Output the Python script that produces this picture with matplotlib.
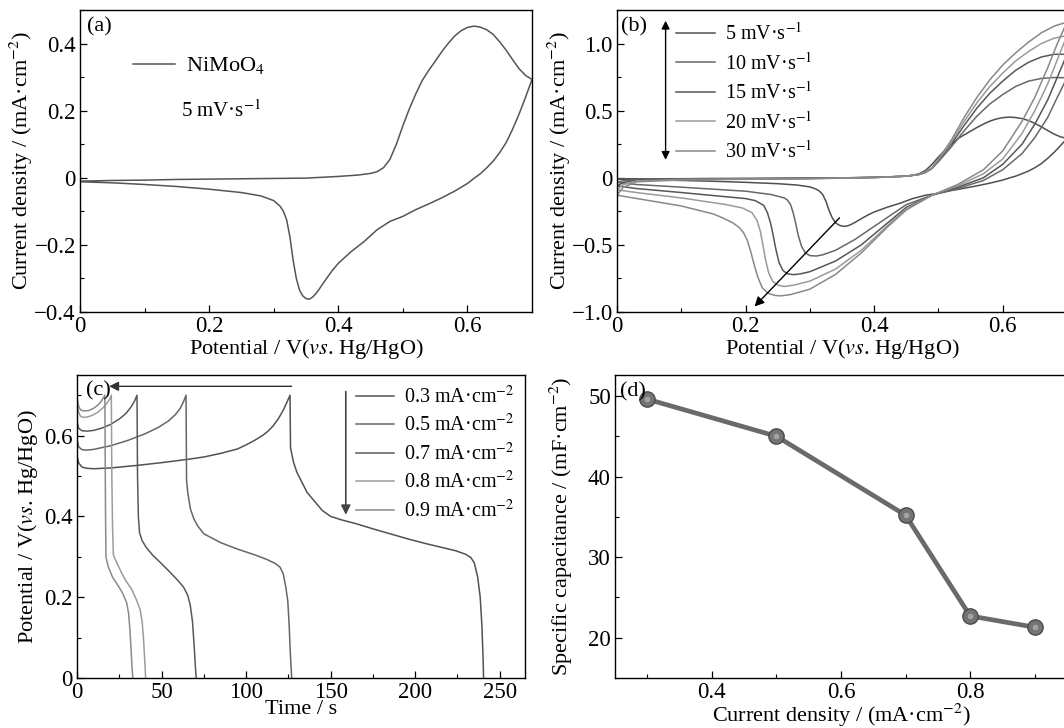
import matplotlib
matplotlib.use("Agg")
import matplotlib.pyplot as plt
from matplotlib.ticker import MultipleLocator, FuncFormatter

plt.rcParams['font.family'] = ['Liberation Serif', 'DejaVu Serif']
plt.rcParams['mathtext.fontset'] = 'stix'
plt.rcParams['font.size'] = 16
plt.rcParams['axes.unicode_minus'] = True

FS = 16      # axis labels
LFS = 14.5   # legend entries
TFS = 16.5   # tick labels

# ---------------- data ----------------
# (a) / (b) CV at 5 mV/s : anodic branch then cathodic branch
v5_up = [0, 0.05, 0.1, 0.15, 0.2, 0.25, 0.3, 0.35, 0.4, 0.43, 0.45, 0.46, 0.47, 0.48, 0.49,
         0.5, 0.51, 0.52, 0.53, 0.54, 0.55, 0.56, 0.57, 0.58, 0.59, 0.6, 0.61, 0.62, 0.63,
         0.64, 0.65, 0.66, 0.67, 0.68, 0.69, 0.7]
i5_up = [-0.01, -0.008, -0.007, -0.005, -0.004, -0.003, -0.002, -0.001, 0.004, 0.008, 0.013,
         0.018, 0.03, 0.055, 0.1, 0.155, 0.205, 0.25, 0.29, 0.32, 0.347, 0.375, 0.4, 0.422,
         0.438, 0.448, 0.452, 0.449, 0.441, 0.427, 0.405, 0.38, 0.352, 0.325, 0.305, 0.293]
v5_dn = [0.7, 0.69, 0.68, 0.67, 0.66, 0.65, 0.64, 0.63, 0.62, 0.61, 0.6, 0.58, 0.56, 0.54,
         0.52, 0.5, 0.48, 0.46, 0.44, 0.42, 0.4, 0.39, 0.38, 0.37, 0.365, 0.36, 0.355, 0.35,
         0.345, 0.34, 0.335, 0.33, 0.325, 0.32, 0.315, 0.31, 0.3, 0.28, 0.25, 0.2, 0.15, 0.1,
         0.05, 0]
i5_dn = [0.293, 0.24, 0.19, 0.145, 0.105, 0.075, 0.05, 0.03, 0.012, -0.002, -0.017, -0.04,
         -0.06, -0.078, -0.095, -0.115, -0.13, -0.155, -0.19, -0.22, -0.255, -0.278, -0.305,
         -0.333, -0.346, -0.356, -0.362, -0.36, -0.352, -0.335, -0.3, -0.245, -0.175, -0.125,
         -0.1, -0.085, -0.068, -0.054, -0.044, -0.034, -0.026, -0.02, -0.015, -0.012]

# (b) other scan rates
v_up = [0, 0.01, 0.03, 0.1, 0.2, 0.3, 0.4, 0.45, 0.47, 0.48, 0.49, 0.5, 0.52, 0.54, 0.56,
        0.58, 0.6, 0.62, 0.64, 0.66, 0.68, 0.7]
i10_up = [-0.035, -0.022, -0.013, -0.009, -0.007, -0.004, 0.003, 0.012, 0.025, 0.04, 0.07,
          0.12, 0.23, 0.35, 0.46, 0.55, 0.62, 0.68, 0.72, 0.74, 0.747, 0.745]
i15_up = [-0.06, -0.035, -0.018, -0.011, -0.008, -0.005, 0.002, 0.012, 0.025, 0.04, 0.07,
          0.13, 0.25, 0.39, 0.52, 0.63, 0.72, 0.8, 0.86, 0.9, 0.92, 0.92]
i20_up = [-0.09, -0.05, -0.024, -0.013, -0.009, -0.006, 0.002, 0.012, 0.025, 0.042, 0.072,
          0.135, 0.265, 0.42, 0.56, 0.68, 0.78, 0.87, 0.94, 1.0, 1.04, 1.06]
i30_up = [-0.13, -0.07, -0.03, -0.016, -0.011, -0.007, 0.001, 0.012, 0.025, 0.045, 0.075,
          0.14, 0.28, 0.45, 0.6, 0.73, 0.84, 0.93, 1.01, 1.08, 1.13, 1.16]

v10_dn = [0.7, 0.685, 0.67, 0.65, 0.63, 0.6, 0.57, 0.53, 0.49, 0.45, 0.41, 0.37, 0.34, 0.32,
          0.31, 0.3, 0.293, 0.287, 0.282, 0.278, 0.274, 0.27, 0.265, 0.26, 0.24, 0.2, 0.1,
          0.03, 0.0]
i10_dn = [0.745, 0.6, 0.45, 0.3, 0.18, 0.06, -0.02, -0.08, -0.13, -0.2, -0.33, -0.46, -0.54,
          -0.574, -0.583, -0.58, -0.56, -0.51, -0.43, -0.34, -0.26, -0.2, -0.165, -0.15,
          -0.125, -0.1, -0.07, -0.05, -0.035]
v15_dn = [0.7, 0.685, 0.67, 0.65, 0.63, 0.6, 0.57, 0.53, 0.49, 0.45, 0.42, 0.38, 0.34, 0.3,
          0.285, 0.275, 0.265, 0.258, 0.252, 0.247, 0.243, 0.239, 0.234, 0.228, 0.215, 0.2,
          0.1, 0.03, 0.0]
i15_dn = [0.92, 0.75, 0.58, 0.4, 0.25, 0.1, 0.0, -0.07, -0.13, -0.22, -0.34, -0.5, -0.62,
          -0.7, -0.716, -0.722, -0.715, -0.69, -0.63, -0.53, -0.43, -0.34, -0.26, -0.205,
          -0.17, -0.155, -0.11, -0.08, -0.06]
v20_dn = [0.7, 0.685, 0.67, 0.65, 0.63, 0.6, 0.57, 0.53, 0.49, 0.45, 0.42, 0.38, 0.34, 0.3,
          0.275, 0.26, 0.25, 0.242, 0.236, 0.231, 0.227, 0.223, 0.218, 0.21, 0.195, 0.17,
          0.1, 0.03, 0.0]
i20_dn = [1.06, 0.88, 0.7, 0.5, 0.33, 0.14, 0.03, -0.06, -0.13, -0.23, -0.36, -0.54, -0.68,
          -0.77, -0.8, -0.81, -0.8, -0.77, -0.71, -0.61, -0.5, -0.4, -0.32, -0.26, -0.225,
          -0.2, -0.15, -0.11, -0.09]
v30_dn = [0.7, 0.685, 0.67, 0.65, 0.63, 0.6, 0.57, 0.53, 0.49, 0.45, 0.42, 0.38, 0.34, 0.3,
          0.27, 0.255, 0.245, 0.235, 0.226, 0.219, 0.213, 0.208, 0.203, 0.197, 0.19, 0.18,
          0.165, 0.15, 0.1, 0.05, 0.0]
i30_dn = [1.16, 1.0, 0.82, 0.6, 0.42, 0.2, 0.06, -0.05, -0.13, -0.24, -0.37, -0.56, -0.72,
          -0.83, -0.87, -0.88, -0.876, -0.86, -0.82, -0.74, -0.64, -0.55, -0.47, -0.41,
          -0.37, -0.335, -0.3, -0.27, -0.21, -0.17, -0.13]

scan_labels = ['5 mV·s$^{-1}$', '10 mV·s$^{-1}$', '15 mV·s$^{-1}$',
               '20 mV·s$^{-1}$', '30 mV·s$^{-1}$']
cv_colors = ['#4f4f4f', '#686868', '#565656', '#9a9a9a', '#888888']

# (c) GCD curves
t03 = [0, 1, 3, 6, 10, 20, 35, 50, 65, 75, 85, 95, 100, 105, 110, 113, 116, 119, 122, 124,
       126, 126.3, 128, 130, 133, 136, 140, 145, 150, 156, 165, 176, 186, 196, 206, 216, 224,
       230, 233, 235, 237, 238.5, 239.5, 240.2, 240.5]
u03 = [0.55, 0.532, 0.522, 0.519, 0.518, 0.52, 0.526, 0.533, 0.541, 0.547, 0.556, 0.567,
       0.577, 0.588, 0.601, 0.611, 0.624, 0.641, 0.663, 0.681, 0.7, 0.57, 0.535, 0.51, 0.485,
       0.46, 0.44, 0.415, 0.4, 0.392, 0.382, 0.368, 0.356, 0.344, 0.333, 0.323, 0.315, 0.306,
       0.298, 0.285, 0.25, 0.2, 0.13, 0.05, 0.0]
t05 = [0, 1, 3, 6, 10, 20, 30, 40, 48, 54, 58, 61, 63, 64.5, 64.8, 65.5, 67, 69, 71.3, 75,
       85, 95, 105, 112, 117, 120, 122, 123.5, 124.7, 125.5, 126.2, 127]
u05 = [0.59, 0.572, 0.565, 0.564, 0.566, 0.575, 0.588, 0.604, 0.62, 0.636, 0.651, 0.667,
       0.684, 0.7, 0.49, 0.46, 0.42, 0.395, 0.377, 0.357, 0.335, 0.319, 0.305, 0.294, 0.284,
       0.275, 0.258, 0.225, 0.19, 0.13, 0.06, 0.0]
t07 = [0, 1, 3, 6, 10, 15, 20, 25, 29, 32, 34, 35.5, 35.8, 36.3, 37, 38.5, 41, 45, 50, 55,
       60, 63, 65.5, 67, 68.3, 69.3, 70, 70.5]
u07 = [0.635, 0.618, 0.612, 0.611, 0.613, 0.619, 0.628, 0.641, 0.655, 0.671, 0.685, 0.7,
       0.5, 0.4, 0.36, 0.34, 0.323, 0.303, 0.283, 0.262, 0.24, 0.225, 0.205, 0.18, 0.14,
       0.08, 0.03, 0.0]
t08 = [0, 0.8, 2, 4, 6, 9, 12, 15, 17.5, 19.3, 20.3, 20.6, 21, 21.5, 23, 26.4, 29, 32.3, 35,
       37.3, 38.5, 39.3, 40, 40.6]
u08 = [0.685, 0.66, 0.648, 0.645, 0.646, 0.65, 0.657, 0.667, 0.679, 0.69, 0.7, 0.5, 0.38,
       0.305, 0.29, 0.26, 0.24, 0.22, 0.195, 0.17, 0.14, 0.1, 0.05, 0.0]
t09 = [0, 0.8, 2, 4, 7, 10, 12.5, 14.5, 16.5, 16.8, 17.1, 18.5, 21, 24.4, 27, 29.4, 30.5,
       31.3, 32, 32.5, 33]
u09 = [0.695, 0.675, 0.664, 0.661, 0.662, 0.668, 0.676, 0.686, 0.7, 0.45, 0.3, 0.275, 0.25,
       0.228, 0.21, 0.186, 0.16, 0.12, 0.07, 0.03, 0.0]
gcd_labels = ['0.3 mA·cm$^{-2}$', '0.5 mA·cm$^{-2}$', '0.7 mA·cm$^{-2}$',
              '0.8 mA·cm$^{-2}$', '0.9 mA·cm$^{-2}$']
gcd_colors = ['#525252', '#666666', '#585858', '#9c9c9c', '#8a8a8a']

# (d) specific capacitance
cur_density = [0.3, 0.5, 0.7, 0.8, 0.9]
spec_cap = [49.6, 45.0, 35.2, 22.7, 21.3]


def fmt1(x, pos):
    if abs(x) < 1e-9:
        return '0'
    return ('%.1f' % x).replace('-', '\u2212')


def fmt0(x, pos):
    return '%d' % round(x)


def style(ax):
    ax.tick_params(which='both', direction='in', top=False, right=False, labelsize=TFS)
    ax.tick_params(which='major', length=5, width=0.9, pad=3)
    ax.tick_params(which='minor', length=3, width=0.8)
    for s in ax.spines.values():
        s.set_linewidth(1.0)


fig = plt.figure(figsize=(10.64, 7.28), dpi=100)
W, H = 1064.0, 728.0


def add_ax(l, t, r, b):
    return fig.add_axes([l / W, 1 - b / H, (r - l) / W, (b - t) / H])


ax_a = add_ax(80, 10, 532, 312)
ax_b = add_ax(617, 10, 1067, 312)
ax_c = add_ax(77, 375, 525, 678)
ax_d = add_ax(615, 375, 1067, 678)

xlab_cv = 'Potential / V($\\mathit{vs}$. Hg/HgO)'
ylab_cv = 'Current density / (mA·cm$^{-2}$)'
leg_kw = dict(loc='upper left', frameon=False, handlelength=1.9,
              handletextpad=0.5, borderpad=0, borderaxespad=0)

# ---- (a) ----
ax_a.plot(v5_up + v5_dn, i5_up + i5_dn, color='#555555', lw=1.1, label='NiMoO$_4$')
ax_a.set_xlim(0, 0.7)
ax_a.set_ylim(-0.4, 0.5)
ax_a.xaxis.set_major_locator(MultipleLocator(0.2))
ax_a.xaxis.set_minor_locator(MultipleLocator(0.1))
ax_a.yaxis.set_major_locator(MultipleLocator(0.2))
ax_a.yaxis.set_minor_locator(MultipleLocator(0.1))
ax_a.xaxis.set_major_formatter(FuncFormatter(fmt1))
ax_a.yaxis.set_major_formatter(FuncFormatter(fmt1))
ax_a.set_xlabel(xlab_cv, fontsize=FS, labelpad=0)
ax_a.set_ylabel(ylab_cv, fontsize=FS)
ax_a.yaxis.set_label_coords(-0.099, 0.5)
ax_a.legend(bbox_to_anchor=(0.117, 0.85), fontsize=FS, **leg_kw)
ax_a.text(0.156, 0.2, '5 mV·s$^{-1}$', fontsize=LFS + 0.5, va='center')
ax_a.text(0.015, 0.975, '(a)', transform=ax_a.transAxes, fontsize=FS, va='top')
style(ax_a)

# ---- (b) ----
b_up = [(v5_up, i5_up), (v_up, i10_up), (v_up, i15_up), (v_up, i20_up), (v_up, i30_up)]
b_dn = [(v5_dn, i5_dn), (v10_dn, i10_dn), (v15_dn, i15_dn), (v20_dn, i20_dn), (v30_dn, i30_dn)]
for (vu, iu), (vd, idn), lab, col in zip(b_up, b_dn, scan_labels, cv_colors):
    ax_b.plot(list(vu) + list(vd), list(iu) + list(idn), color=col, lw=1.1, label=lab)
ax_b.set_xlim(0, 0.7)
ax_b.set_ylim(-1.0, 1.25)
ax_b.xaxis.set_major_locator(MultipleLocator(0.2))
ax_b.xaxis.set_minor_locator(MultipleLocator(0.1))
ax_b.yaxis.set_major_locator(MultipleLocator(0.5))
ax_b.yaxis.set_minor_locator(MultipleLocator(0.25))
ax_b.xaxis.set_major_formatter(FuncFormatter(fmt1))
ax_b.yaxis.set_major_formatter(FuncFormatter(fmt1))
ax_b.set_xlabel(xlab_cv, fontsize=FS, labelpad=0)
ax_b.set_ylabel(ylab_cv, fontsize=FS)
ax_b.yaxis.set_label_coords(-0.097, 0.5)
ax_b.legend(bbox_to_anchor=(0.132, 0.958), fontsize=LFS, labelspacing=0.38, **leg_kw)
ax_b.annotate('', xy=(0.0756, 1.17), xytext=(0.0756, 0.134),
              arrowprops=dict(arrowstyle='<|-|>', color='black', lw=1.0,
                              mutation_scale=12, shrinkA=0, shrinkB=0))
ax_b.annotate('', xy=(0.214, -0.959), xytext=(0.346, -0.299),
              arrowprops=dict(arrowstyle='-|>', color='black', lw=1.0,
                              mutation_scale=14, shrinkA=0, shrinkB=0))
ax_b.text(0.01, 0.975, '(b)', transform=ax_b.transAxes, fontsize=FS, va='top')
style(ax_b)

# ---- (c) ----
gcd = [(t03, u03), (t05, u05), (t07, u07), (t08, u08), (t09, u09)]
for (tt, uu), lab, col in zip(gcd, gcd_labels, gcd_colors):
    ax_c.plot(tt, uu, color=col, lw=1.1, label=lab)
ax_c.set_xlim(0, 265)
ax_c.set_ylim(0, 0.75)
ax_c.xaxis.set_major_locator(MultipleLocator(50))
ax_c.xaxis.set_minor_locator(MultipleLocator(25))
ax_c.yaxis.set_major_locator(MultipleLocator(0.2))
ax_c.yaxis.set_minor_locator(MultipleLocator(0.1))
ax_c.xaxis.set_major_formatter(FuncFormatter(fmt0))
ax_c.yaxis.set_major_formatter(FuncFormatter(fmt1))
ax_c.set_xlabel('Time / s', fontsize=FS, labelpad=-2)
ax_c.set_ylabel(xlab_cv, fontsize=FS)
ax_c.yaxis.set_label_coords(-0.083, 0.5)
ax_c.legend(bbox_to_anchor=(0.623, 0.965), fontsize=LFS, labelspacing=0.32, **leg_kw)
ax_c.annotate('', xy=(19, 0.722), xytext=(127, 0.722),
              arrowprops=dict(arrowstyle='-|>', color='#333333', lw=1.0,
                              mutation_scale=14, shrinkA=0, shrinkB=0))
ax_c.annotate('', xy=(159, 0.404), xytext=(159, 0.709),
              arrowprops=dict(arrowstyle='-|>', color='#444444', lw=1.2,
                              mutation_scale=14, shrinkA=0, shrinkB=0))
ax_c.text(0.02, 0.98, '(c)', transform=ax_c.transAxes, fontsize=FS, va='top')
style(ax_c)

# ---- (d) ----
ax_d.plot(cur_density, spec_cap, color='#6a6a6a', lw=3.4, zorder=2)
ax_d.plot(cur_density, spec_cap, 'o', ms=11, mfc='#747474', mec='#4a4a4a', mew=1.0, zorder=3)
ax_d.plot(cur_density, spec_cap, 'o', ms=4, mfc='#b0b0b0', mec='none', alpha=0.8, zorder=4)
ax_d.set_xlim(0.25, 0.95)
ax_d.set_ylim(15, 52.6)
ax_d.xaxis.set_major_locator(MultipleLocator(0.2))
ax_d.xaxis.set_minor_locator(MultipleLocator(0.1))
ax_d.yaxis.set_major_locator(MultipleLocator(10))
ax_d.yaxis.set_minor_locator(MultipleLocator(5))
ax_d.xaxis.set_major_formatter(FuncFormatter(fmt1))
ax_d.yaxis.set_major_formatter(FuncFormatter(fmt0))
ax_d.set_xlabel('Current density / (mA·cm$^{-2}$)', fontsize=FS, labelpad=-1)
ax_d.set_ylabel('Specific capacitance / (mF·cm$^{-2}$)', fontsize=FS)
ax_d.yaxis.set_label_coords(-0.089, 0.5)
ax_d.text(0.012, 0.975, '(d)', transform=ax_d.transAxes, fontsize=FS, va='top')
style(ax_d)

fig.savefig('out.png', dpi=100)
